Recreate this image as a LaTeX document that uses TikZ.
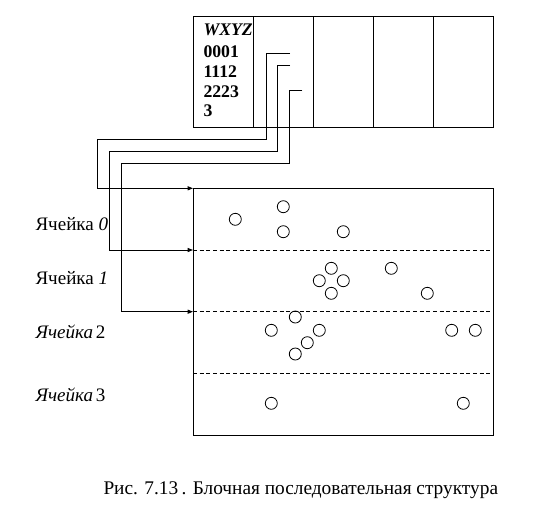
\documentclass[tikz,border=0pt]{standalone}
\usepackage{fontspec}
\setmainfont{Liberation Serif}
\usetikzlibrary{arrows.meta}
\begin{document}
\begin{tikzpicture}[x=0.75pt,y=-0.75pt,line width=0.75pt,
  cell/.style={draw,rectangle,inner sep=0pt,minimum width=45pt,minimum height=83.25pt,anchor=north west},
  store/.style={draw,rectangle,inner sep=0pt,minimum width=225.25pt,minimum height=185pt,anchor=north west},
  sep/.style={dashed,dash pattern=on 3pt off 2pt,line width=0.6pt},
  ptr/.style={-{Triangle[length=4pt,width=3pt]},line width=0.75pt},
  dot/.style={draw,circle,inner sep=0pt,minimum size=9pt,line width=0.6pt},
  tabtxt/.style={anchor=base west,inner sep=0pt,font=\fontsize{13.3}{15}\selectfont\bfseries},
  lab/.style={anchor=base west,inner sep=0pt,font=\fontsize{14.3}{16}\selectfont},
  captxt/.style={anchor=base west,inner sep=0pt,font=\fontsize{14.5}{17}\selectfont}]
\useasboundingbox (0,0) rectangle (547,519);
% top table
\foreach \i in {0,...,4}{\node[cell] (cell\i) at ({193+60*\i},16) {};}
\node[tabtxt] (t0) at (203,35) {\textit{WXYZ}};
\node[tabtxt] (t1) at (203,57.3) {0001};
\node[tabtxt] (t2) at (203,77.3) {1112};
\node[tabtxt] (t3) at (203,97) {2223};
\node[tabtxt] (t4) at (203,116) {3};
% lower storage
\node[store] (mem) at (193,188.3) {};
\coordinate (r1) at (193,250);
\coordinate (r2) at (193,311.7);
\coordinate (r3) at (193,373.3);
\draw[sep] (r1) -- (r1 -| mem.east);
\draw[sep] (r2) -- (r2 -| mem.east);
\draw[sep] (r3) -- (r3 -| mem.east);
% pointers
\coordinate (p1) at (290,53.3);
\coordinate (p2) at (290,65);
\coordinate (p3) at (302.3,90.7);
\draw[ptr] (p1) -- (266,53.3) -- (266,139.3) -- (97.3,139.3) -- (97.3,188.3) -- (mem.north west);
\draw[ptr] (p2) -- (277.3,65) -- (277.3,151.7) -- (109.3,151.7) -- (109.3,250) -- (r1);
\draw[ptr] (p3) -- (289.3,90.7) -- (289.3,163.3) -- (121.7,163.3) -- (121.7,311.7) -- (r2);
% records
\foreach \n/\x/\y in {a/235.3/219.3,b/283.3/206.7,c/283.3/231.7,d/343.3/231.7,
  e/331.3/268.3,f/319.3/280.7,g/343.3/280.7,h/331.3/293.3,i/391.3/268.3,j/427.3/293.3,
  k/295.3/317,l/271.3/330.3,m/319.3/330.3,n/307.3/342.7,o/295.3/354,p/451.7/330.3,q/475.3/330.3,
  r/271.3/403.3,s/463.3/403.3}
  {\node[dot] (rec\n) at (\x,\y) {};}
% labels
\node[lab] (l0) at (35,230.7) {Ячейка \textit{0}};
\node[lab] (l1) at (35,284) {Ячейка \textit{1}};
\node[lab] (l2) at (35,338) {\textit{Ячейка}\hspace{0.15em}2};
\node[lab] (l3) at (35,401.7) {\textit{Ячейка}\hspace{0.15em}3};
% caption
\node[captxt] (caption) at (103,494) {Рис. 7.13\,. Блочная последовательная структура};
\end{tikzpicture}
\end{document}
